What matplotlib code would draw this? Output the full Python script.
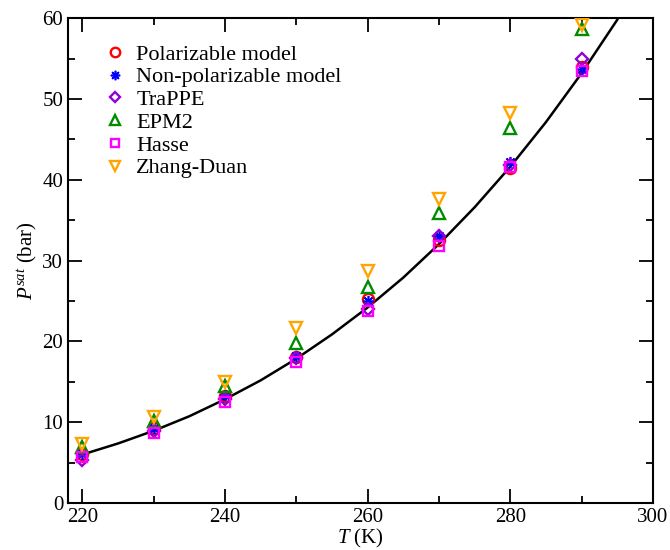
import matplotlib
matplotlib.use("Agg")
import matplotlib.pyplot as plt
from matplotlib.ticker import MultipleLocator

plt.rcParams['font.family'] = 'Liberation Serif'
plt.rcParams['mathtext.fontset'] = 'custom'
plt.rcParams['mathtext.rm'] = 'Liberation Serif'
plt.rcParams['mathtext.it'] = 'Liberation Serif:italic'

# simulation temperatures (K)
temps = [220, 230, 240, 250, 260, 270, 280, 290]

# saturation pressures (bar)
polarizable = [6.0, 9.3, 13.3, 18.1, 25.3, 32.6, 41.5, 54.0]
non_polarizable = [6.1, 9.3, 13.4, 18.2, 25.0, 33.0, 42.2, 53.7]
trappe = [5.3, 8.9, 12.9, 17.9, 24.0, 33.1, 41.8, 55.0]
epm2 = [6.9, 10.2, 14.5, 19.8, 26.7, 35.9, 46.4, 58.6]
hasse = [5.7, 8.6, 12.5, 17.4, 23.7, 31.8, 41.6, 53.5]
zhang_duan = [7.3, 10.6, 15.0, 21.7, 28.7, 37.6, 48.2, 59.2]

# experimental curve
curve_t = [220, 225, 230, 235, 240, 245, 250, 255, 260, 265, 270, 275, 280, 285, 290, 295]
curve_p = [5.99, 7.36, 8.93, 10.73, 12.83, 15.17, 17.85, 20.86, 24.19, 27.89,
           32.03, 36.59, 41.61, 47.13, 53.18, 59.8]

fig = plt.figure(figsize=(6.7, 5.5), dpi=100)
ax = fig.add_axes([0.1015, 0.0855, 0.873, 0.8815])

ax.plot(curve_t, curve_p, color='black', lw=1.8, zorder=1)

series = [
    (polarizable, 'Polarizable model', 'o', 'red'),
    (non_polarizable, 'Non-polarizable model', (8, 2, 0), 'blue'),
    (trappe, 'TraPPE', 'D', '#9400d3'),
    (epm2, 'EPM2', '^', '#008b00'),
    (hasse, 'Hasse', 's', 'magenta'),
    (zhang_duan, 'Zhang-Duan', 'v', 'orange'),
]
for vals, label, mk, col in series:
    size = {'D': 6.5, 's': 7.5}.get(mk, 8)
    width = 1.2 if mk == (8, 2, 0) else 1.7
    ax.plot(temps, vals, ls='none', marker=mk, ms=size, mfc='none', mec=col,
            mew=width, label=label, zorder=3)

ax.set_xlim(218, 300)
ax.set_ylim(0, 60)
ax.xaxis.set_major_locator(MultipleLocator(20))
ax.xaxis.set_minor_locator(MultipleLocator(10))
ax.yaxis.set_major_locator(MultipleLocator(10))
ax.yaxis.set_minor_locator(MultipleLocator(5))
ax.tick_params(which='both', direction='in', top=True, right=True, width=1.3,
               labelsize=15)
ax.tick_params(which='major', length=10)
ax.tick_params(which='minor', length=5)
for sp in ax.spines.values():
    sp.set_linewidth(1.5)

ax.set_xlabel(r'$T$ (K)', fontsize=15, labelpad=0)
ax.set_ylabel(r'$P^{sat}$ (bar)', fontsize=15, labelpad=2)

ax.legend(loc='upper left', bbox_to_anchor=(0.05, 0.965), frameon=False,
          fontsize=16, numpoints=1, handlelength=0.8, handletextpad=0.55,
          labelspacing=0.1, borderaxespad=0, markerscale=0.85)

fig.savefig('out.png', dpi=100)
